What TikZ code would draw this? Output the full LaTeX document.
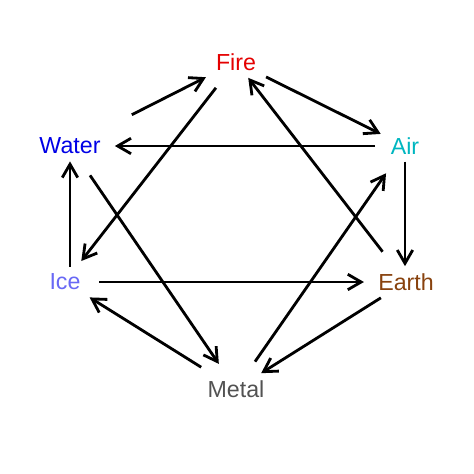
\documentclass[tikz,border=0pt]{standalone}
\usepackage{fontspec}
\setmainfont{Liberation Sans}
\usetikzlibrary{arrows.meta}
\usepackage{xcolor}

\definecolor{firecol}{RGB}{228,0,0}
\definecolor{watercol}{RGB}{0,0,230}
\definecolor{aircol}{RGB}{0,182,192}
\definecolor{icecol}{RGB}{104,104,245}
\definecolor{earthcol}{RGB}{136,66,14}
\definecolor{metalcol}{RGB}{82,82,82}

\begin{document}
\begin{tikzpicture}[x=0.025cm, y=-0.025cm,
    element/.style={inner xsep=7pt, inner ysep=5pt, font=\fontsize{16.5}{19}\selectfont},
    every edge/.style={draw, line width=2pt, -{Straight Barb[length=9.5pt,width=11pt,line width=2pt]}}]
  \useasboundingbox (0,0) rectangle (474,474);
  % Elements
  \node[element, text=firecol] (fire) at (236,62) {Fire};
  \node[element, text=aircol] (air) at (405,146) {Air};
  \node[element, text=earthcol] (earth) at (406,282) {Earth};
  \node[element, text=metalcol] (metal) at (236,389) {Metal};
  \node[element, text=icecol] (ice) at (65,282) {Ice};
  \node[element, text=watercol] (water) at (70,146) {Water};

  \path
    % Outer cycle
    (water) edge[shorten <=25pt] (fire)
    (fire) edge (air)
    (air) edge (air |- earth.north)
    (earth) edge (metal)
    (metal) edge[shorten <=8pt] (ice)
    (ice.north -| water) edge (water)
    % Inner arrows
    (air) edge[shorten <=4pt, shorten >=3pt] (water)
    (water) edge[shorten <=12pt, shorten >=8pt] (metal)
    (metal) edge[shorten <=10pt, shorten >=10pt] (air)
    (fire) edge[shorten <=9pt, shorten >=5pt] (ice)
    (ice) edge[shorten <=6pt, shorten >=3pt] (earth)
    (earth) edge[shorten <=13pt] (fire);
\end{tikzpicture}
\end{document}
